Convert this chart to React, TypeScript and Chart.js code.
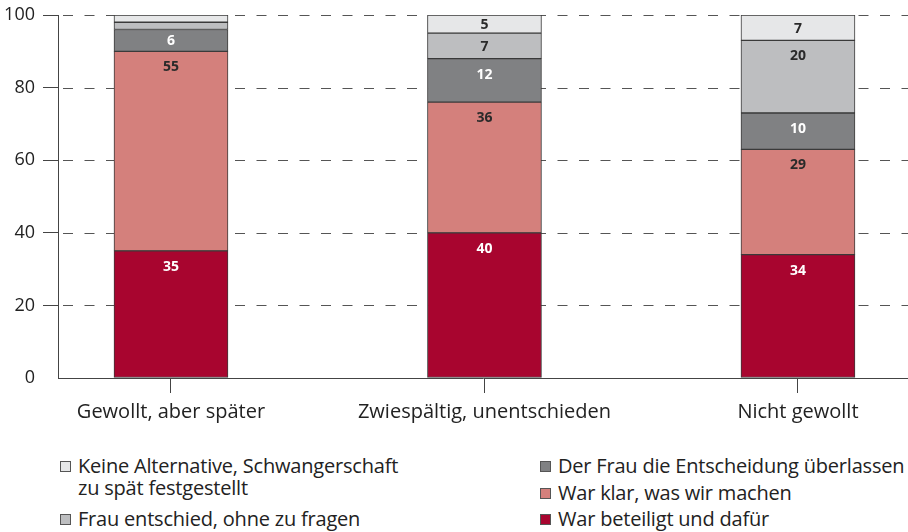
import React, { useEffect, useRef } from "react";
import { Chart, registerables } from "chart.js";

Chart.register(...registerables);

const categories = ["Gewollt, aber später", "Zwiespältig, unentschieden", "Nicht gewollt"];
const seriesNames = [
  "War beteiligt und dafür",
  "War klar, was wir machen",
  "Der Frau die Entscheidung überlassen",
  "Frau entschied, ohne zu fragen",
  "Keine Alternative, Schwangerschaft zu spät festgestellt",
];
const beteiligt = [35, 40, 34];
const klar = [55, 36, 29];
const ueberlassen = [6, 12, 10];
const entschied = [2, 7, 20];
const keineAlternative = [2, 5, 7];
const seriesValues = [beteiligt, klar, ueberlassen, entschied, keineAlternative];
const seriesColors = ["#a8052f", "#d4807c", "#808183", "#bdbec0", "#e6e7e8"];
const labelColors = ["#ffffff", "#2a2a2a", "#ffffff", "#2a2a2a", "#2a2a2a"];
const yTicks = [0, 20, 40, 60, 80, 100];

const FONT = '"Open Sans", sans-serif';

const dashedGridPlugin = {
  id: "dashedGrid",
  beforeDatasetsDraw(chart: any) {
    const ctx = chart.ctx;
    const ys = chart.scales.y;
    const area = chart.chartArea;
    ctx.save();
    ctx.strokeStyle = "#555";
    ctx.lineWidth = 1;
    ctx.setLineDash([10, 11.5]);
    ctx.lineDashOffset = 16.5;
    yTicks.forEach((v) => {
      if (v === 0) return;
      const y = Math.round(ys.getPixelForValue(v)) + 0.5;
      ctx.beginPath();
      ctx.moveTo(area.left, y);
      ctx.lineTo(chart.width, y);
      ctx.stroke();
    });
    ctx.restore();
  },
};

const labelPlugin = {
  id: "segLabels",
  afterDatasetsDraw(chart: any) {
    const ctx = chart.ctx;
    ctx.save();
    chart.data.datasets.forEach((_ds: any, i: number) => {
      const meta = chart.getDatasetMeta(i);
      meta.data.forEach((el: any, j: number) => {
        const v = seriesValues[i][j];
        if (v < 5) return;
        const p = el.getProps(["x", "y", "base"], true);
        const top = Math.min(p.y, p.base);
        const bottom = Math.max(p.y, p.base);
        const ty = Math.min(top + 15, (top + bottom) / 2);
        ctx.fillStyle = labelColors[i];
        ctx.font = `bold 14px ${FONT}`;
        ctx.textAlign = "center";
        ctx.textBaseline = "middle";
        ctx.fillText(String(v), p.x, ty + 1);
      });
    });
    ctx.restore();
  },
};

function LegendItem({ color, text, x, y }: { color: string; text: string[]; x: number; y: number }) {
  return (
    <div style={{ position: "absolute", left: x, top: y, display: "flex", alignItems: "flex-start" }}>
      <div
        style={{
          width: 11,
          height: 11,
          background: color,
          border: "1px solid #555",
          marginTop: 6,
          marginRight: 7,
          boxSizing: "border-box",
          flex: "none",
        }}
      />
      <div style={{ fontFamily: FONT, fontSize: 20, lineHeight: "22px", color: "#222", whiteSpace: "nowrap", letterSpacing: -0.2 }}>
        {text.map((t, k) => (
          <div key={k}>{t}</div>
        ))}
      </div>
    </div>
  );
}

export default function App() {
  const ref = useRef<HTMLCanvasElement>(null);
  useEffect(() => {
    document.body.style.margin = "0";
    const canvas = ref.current!;
    const chart = new Chart(canvas, {
      type: "bar",
      data: {
        datasets: seriesNames.map((name, i) => ({
          label: name,
          data: seriesValues[i].map((v, j) => ({ x: j, y: v })),
          backgroundColor: seriesColors[i],
          borderColor: "#3a3a3a",
          borderWidth: 1,
          borderSkipped: false,
          barThickness: 114,
        })),
      },
      options: {
        animation: false,
        responsive: false,
        maintainAspectRatio: false,
        layout: { padding: { top: 15, left: 0, right: 0, bottom: 0 } },
        plugins: { legend: { display: false }, tooltip: { enabled: false } },
        scales: {
          x: {
            type: "linear",
            stacked: true,
            offset: false,
            min: -0.3604,
            max: 2.351,
            afterFit: (s: any) => {
              s.height = 62;
              s.paddingLeft = 0;
              s.paddingRight = 0;
            },
            afterBuildTicks: (s: any) => {
              s.ticks = categories.map((_c, i) => ({ value: i }));
            },
            ticks: {
              autoSkip: false,
              maxRotation: 0,
              padding: 7,
              color: "#222",
              font: { family: FONT, size: 20 },
              callback: (v: any) => categories[v] ?? "",
            },
            grid: {
              offset: false,
              drawOnChartArea: false,
              drawTicks: true,
              tickLength: 15,
              tickColor: "#444",
            },
            border: { display: true, color: "#444", width: 1 },
          },
          y: {
            stacked: true,
            min: 0,
            max: 100,
            afterFit: (s: any) => {
              s.width = 58;
              s.paddingTop = 0;
              s.paddingBottom = 0;
            },
            afterBuildTicks: (s: any) => {
              s.ticks = yTicks.map((v) => ({ value: v }));
            },
            ticks: {
              padding: 8,
              color: "#222",
              font: { family: FONT, size: 18 },
            },
            grid: {
              drawOnChartArea: false,
              drawTicks: true,
              tickColor: (c: any) => (c.tick && c.tick.value === 0 ? "rgba(0,0,0,0)" : "#444"),
              tickLength: 15,
            },
            border: { display: true, color: "#444", width: 1 },
          },
        },
      } as any,
      plugins: [dashedGridPlugin, labelPlugin],
    });
    return () => chart.destroy();
  }, []);

  return (
    <div style={{ position: "relative", width: 908, height: 532, overflow: "hidden" }}>
      <canvas ref={ref} width={908} height={440} style={{ display: "block", width: 908, height: 440 }} />
      <LegendItem color={seriesColors[4]} text={["Keine Alternative, Schwangerschaft", "zu spät festgestellt"]} x={60} y={455} />
      <LegendItem color={seriesColors[3]} text={["Frau entschied, ohne zu fragen"]} x={60} y={508} />
      <LegendItem color={seriesColors[2]} text={["Der Frau die Entscheidung überlassen"]} x={540} y={455} />
      <LegendItem color={seriesColors[1]} text={["War klar, was wir machen"]} x={540} y={482} />
      <LegendItem color={seriesColors[0]} text={["War beteiligt und dafür"]} x={540} y={508} />
    </div>
  );
}
